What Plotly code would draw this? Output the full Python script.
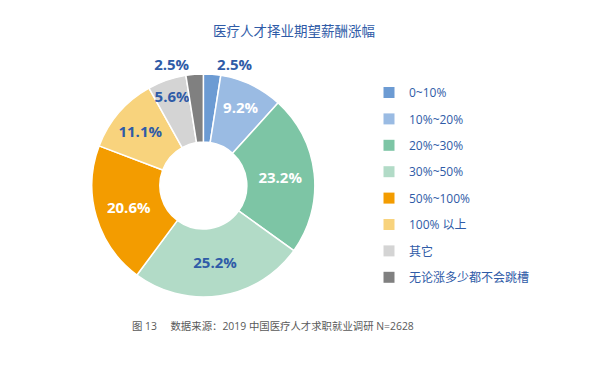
import plotly.graph_objects as go

categories = ["0~10%", "10%~20%", "20%~30%", "30%~50%", "50%~100%", "100% 以上", "其它", "无论涨多少都不会跳槽"]
values = [2.5, 9.2, 23.2, 25.2, 20.6, 11.1, 5.6, 2.5]
colors = ["#6C9BD3", "#9ABBE3", "#7DC5A5", "#B2DBC7", "#F39C00", "#F8D37D", "#D4D4D4", "#808080"]
text_colors = ["#2F5BA7", "white", "white", "#2F5BA7", "white", "#2F5BA7", "#2F5BA7", "#2F5BA7"]
text_positions = ["outside", "inside", "inside", "inside", "inside", "inside", "inside", "outside"]

title = "医疗人才择业期望薪酬涨幅"
caption = "图 13\u00a0\u00a0\u00a0\u00a0\u00a0数据来源：2019 中国医疗人才求职就业调研 N=2628"

W, H = 600, 380
OFF = 8  # page body margin offset compensation
BLUE = "#2F5BA7"
FONT = "Open Sans, Noto Sans CJK SC, sans-serif"


def px(x):
    return (x - OFF) / W


def py(y):
    return 1 - (y - OFF) / H


fig = go.Figure()
fig.add_trace(go.Pie(
    labels=categories,
    values=values,
    sort=False,
    direction="clockwise",
    rotation=0,
    hole=0.39,
    marker=dict(colors=colors, line=dict(color="white", width=1.5)),
    texttemplate="%{value:.1f}%",
    textposition=text_positions,
    insidetextorientation="horizontal",
    textfont=dict(family=FONT, size=15, color=text_colors, weight="bold"),
    domain=dict(x=[px(91.7), px(315)], y=[py(297), py(74)]),
    showlegend=False,
))

# legend entries (one per category)
for lab, col in zip(categories, colors):
    fig.add_trace(go.Scatter(
        x=[None], y=[None], mode="markers", name=lab, legendgroup=lab,
        marker=dict(symbol="square", size=11, color=col),
        showlegend=True, hoverinfo="skip",
    ))

fig.update_layout(
    width=W, height=H,
    margin=dict(l=0, r=0, t=0, b=0),
    paper_bgcolor="white", plot_bgcolor="white",
    xaxis=dict(visible=False), yaxis=dict(visible=False),
    uniformtext=dict(minsize=15, mode="show"),
    title=dict(text=title, x=px(294), y=py(31), xanchor="center", yanchor="middle",
               font=dict(family=FONT, size=13.5, color=BLUE)),
    legend=dict(x=px(369), y=py(78), xanchor="left", yanchor="top",
                traceorder="grouped", tracegroupgap=7.4,
                font=dict(family=FONT, size=12, color=BLUE),
                bgcolor="rgba(0,0,0,0)"),
    annotations=[dict(text=caption, x=px(130), y=py(326), xref="paper", yref="paper",
                      xanchor="left", yanchor="middle", showarrow=False,
                      font=dict(family=FONT, size=10.4, color="#595959"))],
)

fig.write_html("out.html")
